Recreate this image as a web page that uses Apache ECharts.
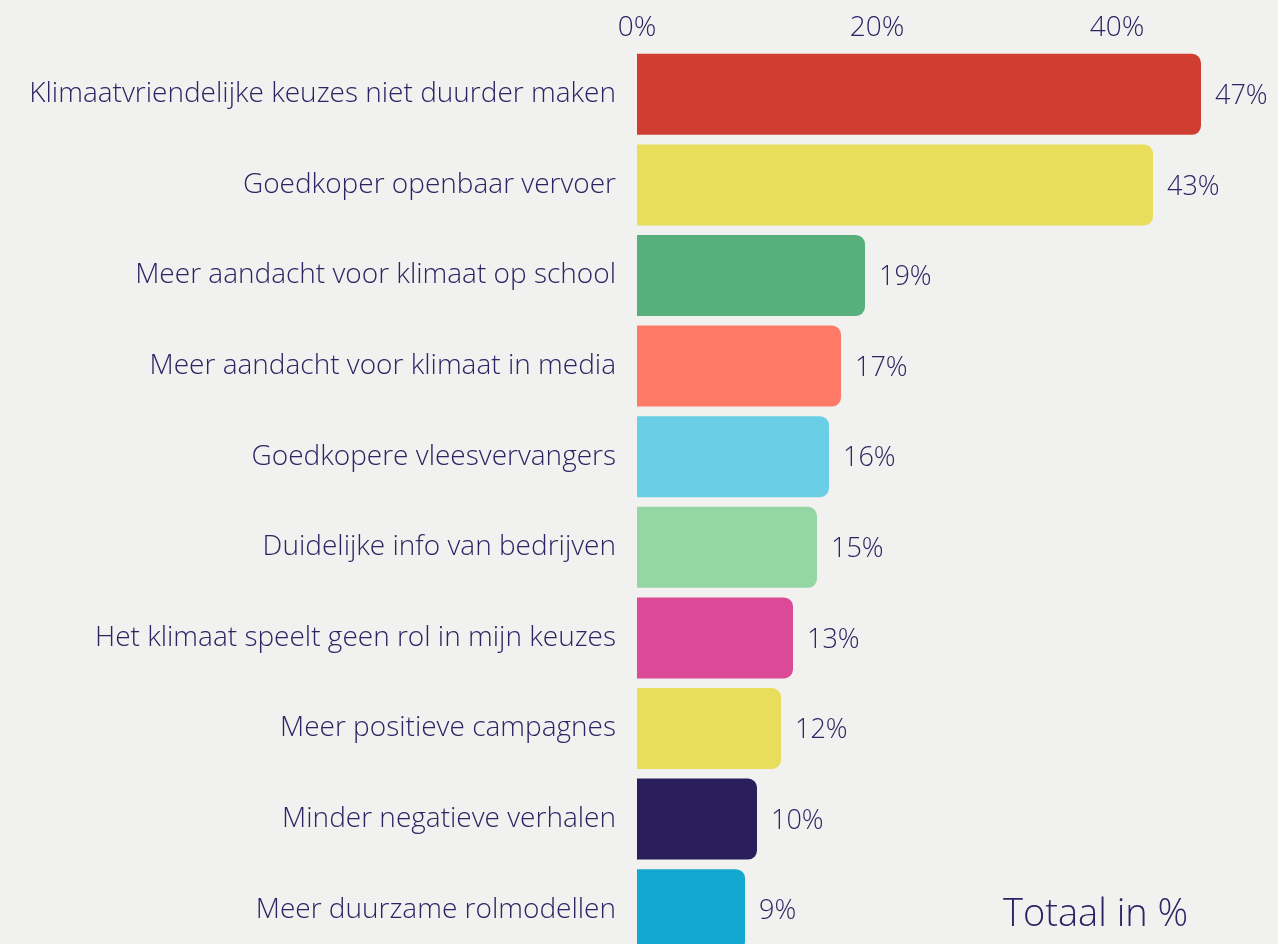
<!DOCTYPE html>
<html>
<head>
<meta charset="utf-8">
<script src="https://cdn.jsdelivr.net/npm/echarts@6/dist/echarts.min.js"></script>
<style>
  html, body { margin: 0; padding: 0; background: #f1f1f0; }
  #chart { width: 1278px; height: 944px; }
</style>
</head>
<body>
<div id="chart"></div>
<script>
var categories = [
    'Klimaatvriendelijke keuzes niet duurder maken',
    'Goedkoper openbaar vervoer',
    'Meer aandacht voor klimaat op school',
    'Meer aandacht voor klimaat in media',
    'Goedkopere vleesvervangers',
    'Duidelijke info van bedrijven',
    'Het klimaat speelt geen rol in mijn keuzes',
    'Meer positieve campagnes',
    'Minder negatieve verhalen',
    'Meer duurzame rolmodellen'
];
var values = [47, 43, 19, 17, 16, 15, 13, 12, 10, 9];
var barColors = ['#d03e31', '#e9dd5c', '#57b07b', '#ff7b68', '#6acfe6',
                 '#95d6a5', '#db4a96', '#e9dd5c', '#2a1f5c', '#13a8d0'];
var tickValues = [0, 20, 40];

var textColor = '#2b2563';
var fontFam = '"Open Sans", Lato, sans-serif';

var myChart = echarts.init(document.getElementById('chart'));
option = {
    backgroundColor: '#f1f1f0',
    animation: false,
    grid: {
        left: 637,
        top: 49,
        width: 600,
        height: 906,
        outerBoundsMode: 'none'
    },
    graphic: [{
        type: 'text',
        left: 1003,
        top: 896,
        style: {
            text: 'Totaal in %',
            fill: textColor,
            font: '300 38px ' + fontFam
        }
    }],
    xAxis: {
        type: 'value',
        position: 'top',
        min: 0,
        max: 50,
        interval: 20,
        splitLine: { show: false },
        axisLine: { show: false },
        axisTick: { show: false },
        axisLabel: {
            margin: 7,
            color: textColor,
            fontFamily: fontFam,
            fontWeight: 300,
            fontSize: 28,
            formatter: function (v) {
                return tickValues.indexOf(v) >= 0 ? v + '%' : '';
            }
        }
    },
    yAxis: {
        type: 'category',
        inverse: true,
        data: categories,
        axisLine: { show: false },
        axisTick: { show: false },
        axisLabel: {
            margin: 21,
            padding: [3, 0, 0, 0],
            color: textColor,
            fontFamily: fontFam,
            fontWeight: 300,
            fontSize: 28
        }
    },
    series: [{
        type: 'bar',
        barWidth: 81,
        data: values.map(function (v, i) {
            return { value: v, itemStyle: { color: barColors[i] } };
        }),
        itemStyle: { borderRadius: [0, 9, 9, 0] },
        label: {
            show: true,
            position: 'right',
            distance: 14,
            offset: [0, 2],
            color: textColor,
            fontFamily: fontFam,
            fontWeight: 300,
            fontSize: 27,
            formatter: '{c}%'
        }
    }]
};
myChart.setOption(option);
</script>
</body>
</html>
